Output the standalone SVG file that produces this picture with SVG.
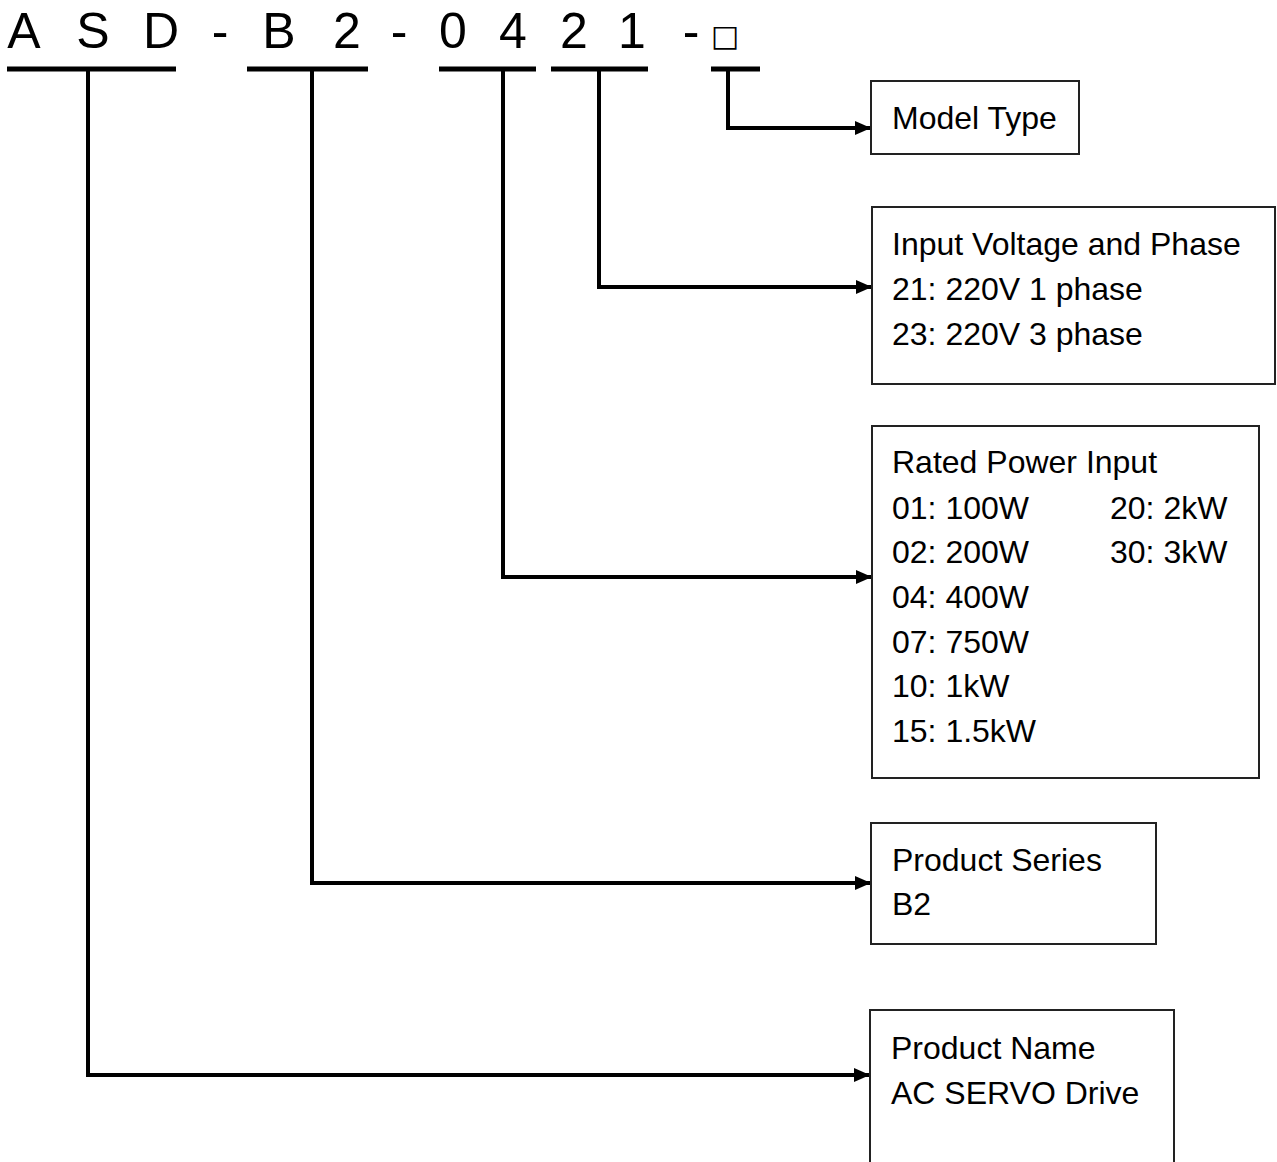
<svg xmlns="http://www.w3.org/2000/svg" width="1277" height="1162" viewBox="0 0 1277 1162">
<style>
.code{font-family:"Liberation Sans",Arial,sans-serif;font-size:50px;fill:#000;text-anchor:middle}
.t{font-family:"Liberation Sans",Arial,sans-serif;font-size:32px;fill:#000}
.box{fill:#fff;stroke:#222;stroke-width:2}
.ul{stroke:#000;stroke-width:5}
.conn{fill:none;stroke:#000;stroke-width:4}
</style>
<defs>
<marker id="arr" markerUnits="userSpaceOnUse" markerWidth="18" markerHeight="16" refX="16" refY="8" orient="auto" overflow="visible">
<path d="M0,1 L16,8 L0,15 Z" fill="#000"/>
</marker>
</defs>
<rect width="1277" height="1162" fill="#fff"/>
<g id="code">
<text class="code" x="24" y="48">A</text>
<text class="code" x="93" y="48">S</text>
<text class="code" x="161" y="48">D</text>
<text class="code" x="220" y="48">-</text>
<text class="code" x="279" y="48">B</text>
<text class="code" x="347" y="48">2</text>
<text class="code" x="399" y="48">-</text>
<text class="code" x="453" y="48">0</text>
<text class="code" x="513" y="48">4</text>
<text class="code" x="574" y="48">2</text>
<text class="code" x="632" y="48">1</text>
<text class="code" x="691" y="48">-</text>
<text x="725" y="46" style="font-family:'DejaVu Sans',sans-serif;font-size:30px;text-anchor:middle;fill:#000">□</text>
</g>
<g id="underlines">
<line class="ul" x1="7" y1="69" x2="176" y2="69"/>
<line class="ul" x1="247" y1="69" x2="368" y2="69"/>
<line class="ul" x1="439" y1="69" x2="536" y2="69"/>
<line class="ul" x1="551" y1="69" x2="648" y2="69"/>
<line class="ul" x1="711" y1="69" x2="760" y2="69"/>
</g>
<g id="connectors">
<path class="conn" d="M728,69 V128 H871" marker-end="url(#arr)"/>
<path class="conn" d="M599,69 V287 H872" marker-end="url(#arr)"/>
<path class="conn" d="M503,69 V577 H872" marker-end="url(#arr)"/>
<path class="conn" d="M312,69 V883 H871" marker-end="url(#arr)"/>
<path class="conn" d="M88,69 V1075 H870" marker-end="url(#arr)"/>
</g>
<g id="model-type">
<rect class="box" x="871" y="81" width="208" height="73"/>
<text class="t" x="892" y="129">Model Type</text>
</g>
<g id="input-voltage">
<rect class="box" x="872" y="207" width="403" height="177"/>
<text class="t" x="892" y="255">Input Voltage and Phase</text>
<text class="t" x="892" y="300">21: 220V 1 phase</text>
<text class="t" x="892" y="345">23: 220V 3 phase</text>
</g>
<g id="rated-power">
<rect class="box" x="872" y="426" width="387" height="352"/>
<text class="t" x="892" y="473">Rated Power Input</text>
<text class="t" x="892" y="519">01: 100W</text>
<text class="t" x="892" y="563">02: 200W</text>
<text class="t" x="892" y="608">04: 400W</text>
<text class="t" x="892" y="653">07: 750W</text>
<text class="t" x="892" y="697">10: 1kW</text>
<text class="t" x="892" y="742">15: 1.5kW</text>
<text class="t" x="1110" y="519">20: 2kW</text>
<text class="t" x="1110" y="563">30: 3kW</text>
</g>
<g id="product-series">
<rect class="box" x="871" y="823" width="285" height="121"/>
<text class="t" x="892" y="871">Product Series</text>
<text class="t" x="892" y="915">B2</text>
</g>
<g id="product-name">
<rect class="box" x="870" y="1010" width="304" height="170"/>
<text class="t" x="891" y="1059">Product Name</text>
<text class="t" x="891" y="1104">AC SERVO Drive</text>
</g>
</svg>
